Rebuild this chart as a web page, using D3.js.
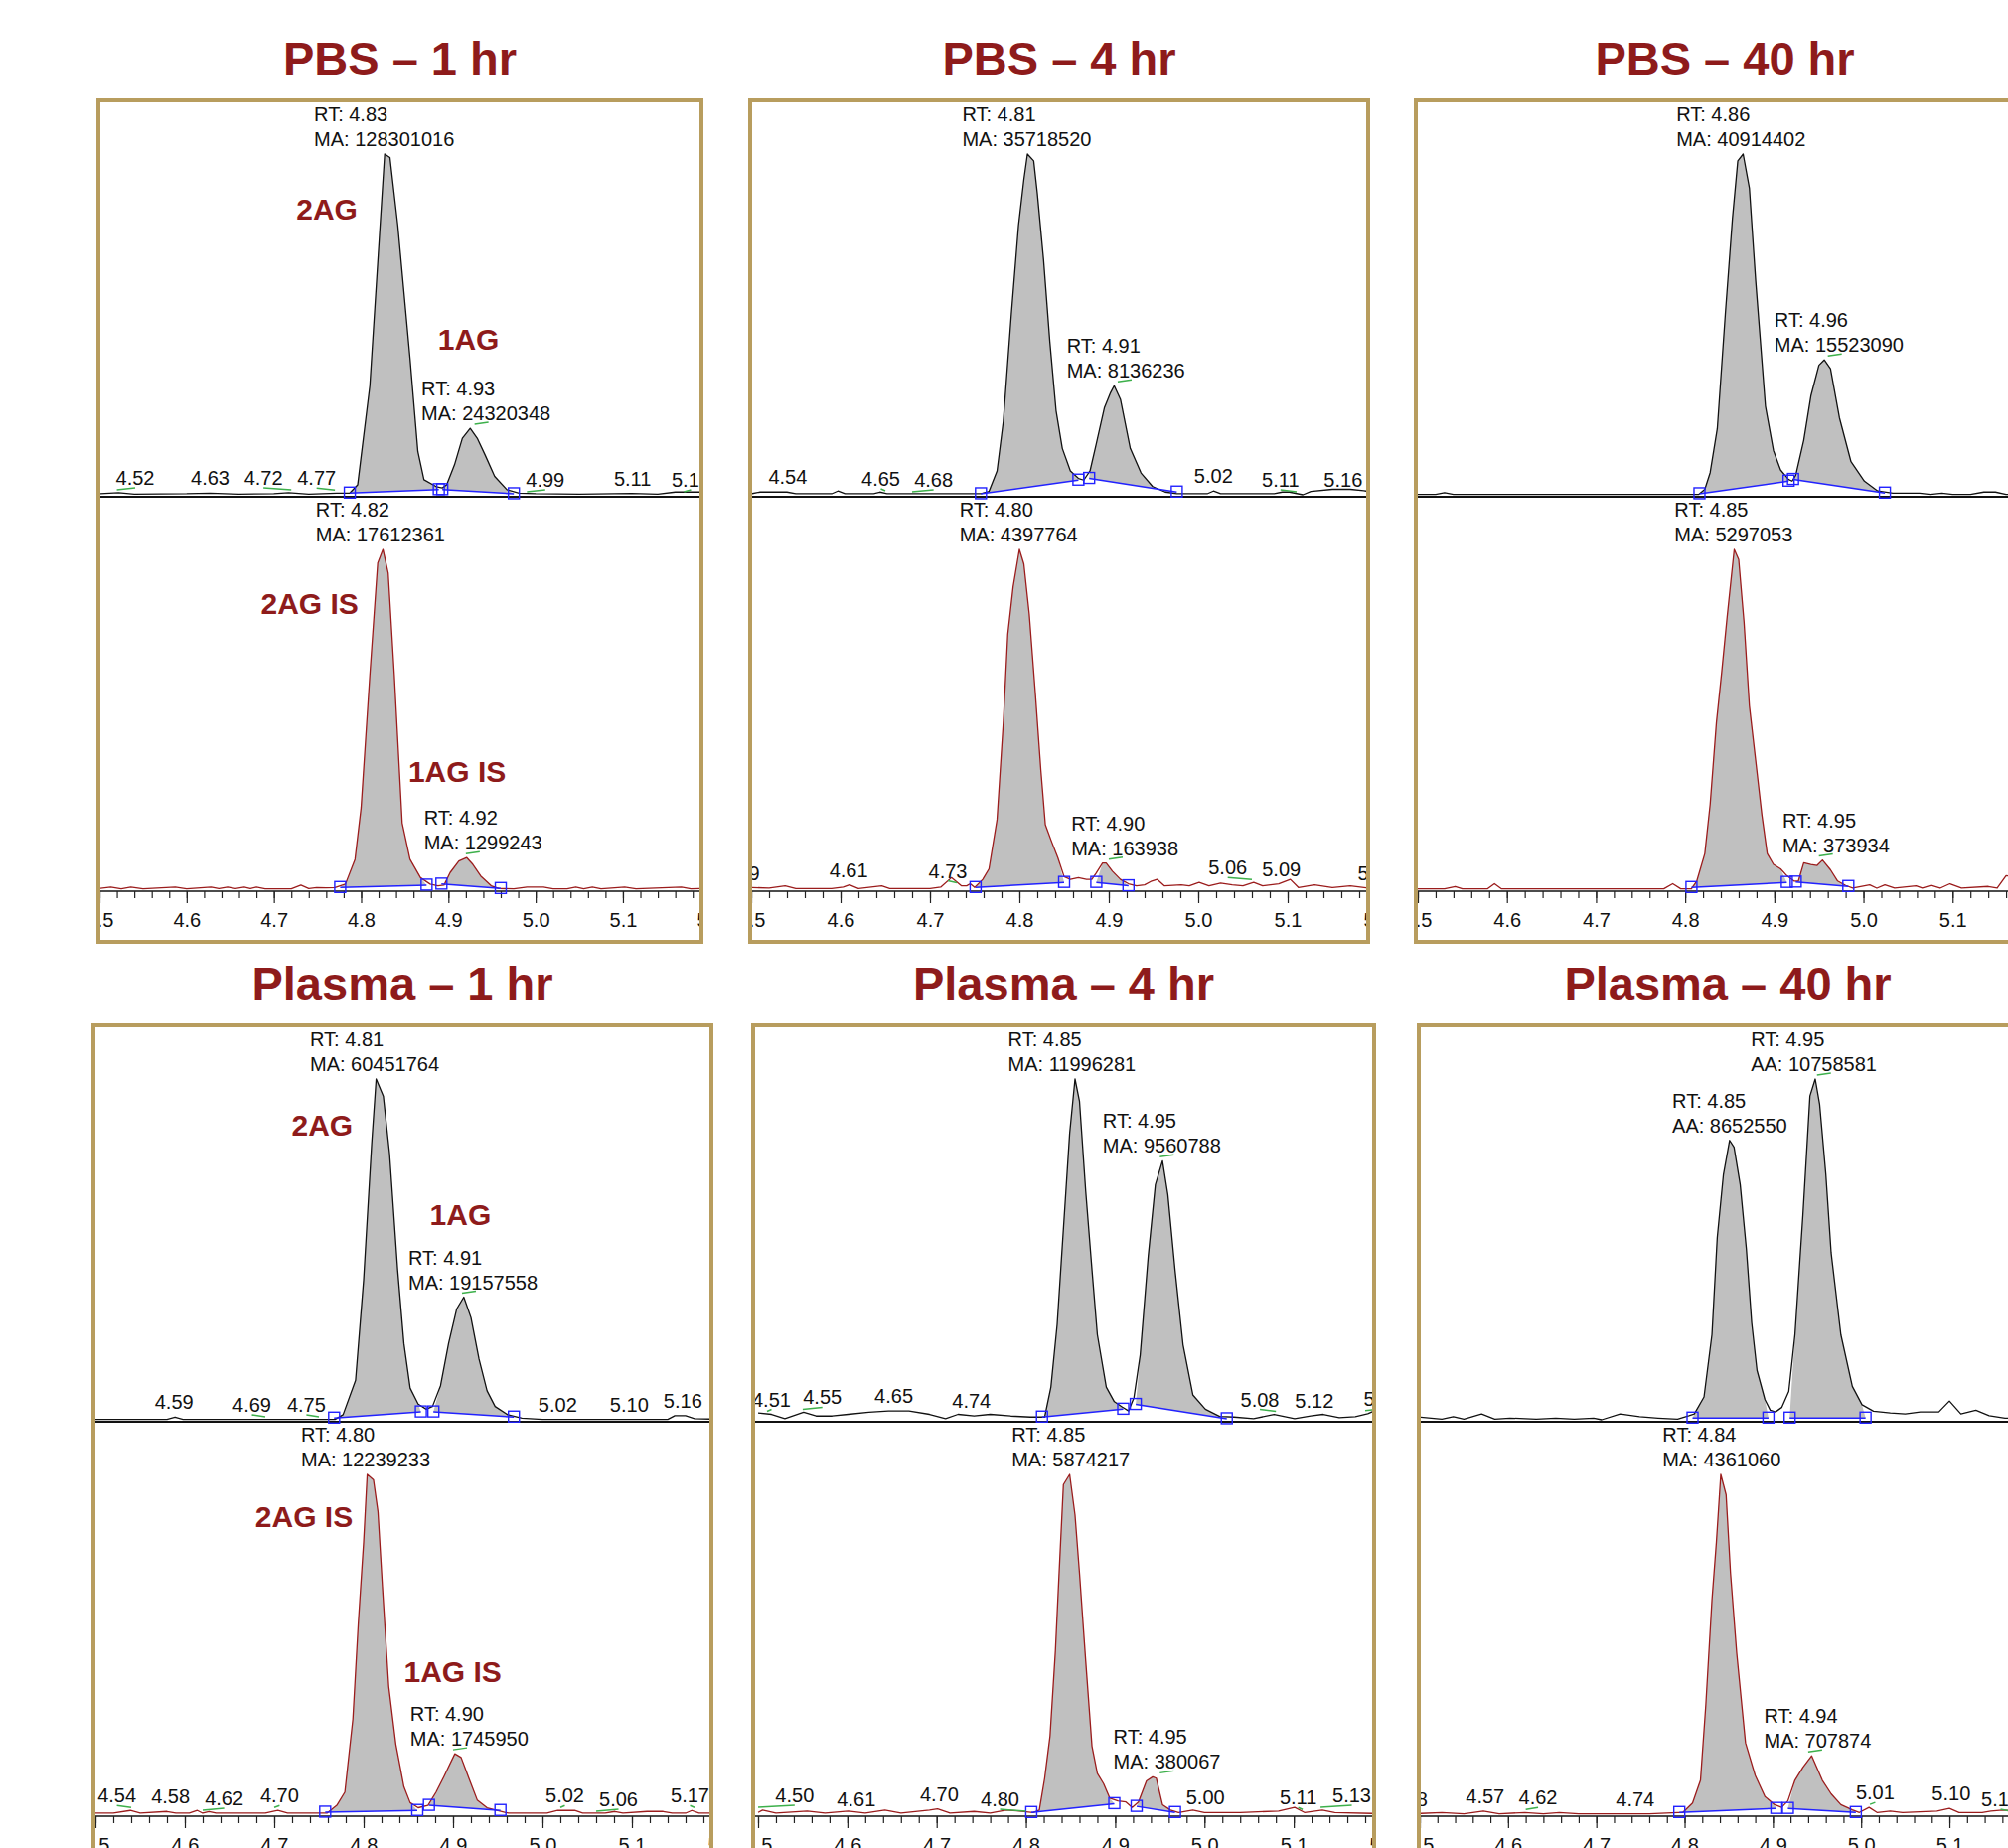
<!DOCTYPE html>
<html>
<head>
<meta charset="utf-8">
<title>2AG / 1AG chromatograms</title>
<style>
  body { margin: 0; background: #fff; }
  svg text { font-family: "Liberation Sans", Arial, sans-serif; }
</style>
</head>
<body>
<svg id="chart"></svg>
<script src="https://cdn.jsdelivr.net/npm/d3@7/dist/d3.min.js"></script>
<script>
// ---- data: [retention time (min), relative intensity (%)] ----
const titles = ["PBS – 1 hr", "PBS – 4 hr", "PBS – 40 hr", "Plasma – 1 hr", "Plasma – 4 hr", "Plasma – 40 hr"]

const pbs1Upper = [[4.50,0.3],[4.522,0.6],[4.54,0.2],[4.60,0.3],[4.627,0.5],[4.66,0.2],[4.70,0.3],[4.717,0.6],[4.74,0.2],[4.772,0.5],[4.787,0.5],[4.796,2.9],[4.810,32],[4.821,76],[4.827,100],[4.833,99],[4.842,79],[4.856,40],[4.865,12.7],[4.872,4.4],[4.886,2.4],[4.893,2.0],[4.898,2.9],[4.907,8.8],[4.916,16.6],[4.925,19.5],[4.933,16.6],[4.942,11.7],[4.953,5.4],[4.967,1.5],[4.981,0.5],[5.00,0.3],[5.05,0.2],[5.11,0.4],[5.14,0.2],[5.16,0.8],[5.19,0.8]]
const pbs1Lower = [[4.50,0.2],[4.513,0.6],[4.525,0.1],[4.536,0.6],[4.55,0.1],[4.587,0.6],[4.60,0.1],[4.628,0.6],[4.637,0.2],[4.647,0.6],[4.656,0.2],[4.666,0.6],[4.673,0.2],[4.680,0.6],[4.69,0.1],[4.72,0.1],[4.731,1.2],[4.740,0.2],[4.749,0.5],[4.760,0.4],[4.770,0.5],[4.782,1.5],[4.793,8.8],[4.800,24],[4.810,63],[4.819,96],[4.825,100],[4.831,93],[4.838,63],[4.847,19.5],[4.856,8.8],[4.868,3.4],[4.879,1.5],[4.888,1.0],[4.895,1.2],[4.902,4.9],[4.912,8.3],[4.921,9.3],[4.928,7.3],[4.937,3.9],[4.949,1.0],[4.958,0.2],[4.975,0.1],[4.990,0.6],[5.009,0.6],[5.02,0.1],[5.036,0.1],[5.046,0.6],[5.055,0.1],[5.065,0.6],[5.075,0.1],[5.102,0.6],[5.115,0.1],[5.167,0.6],[5.178,0.1],[5.19,0.2]]
const pbs4Upper = [[4.50,0.3],[4.51,0.8],[4.54,0.8],[4.55,0.3],[4.59,0.3],[4.597,1.1],[4.605,0.3],[4.637,0.3],[4.644,0.8],[4.652,0.3],[4.70,0.3],[4.740,0.3],[4.757,0.3],[4.766,1.0],[4.775,7],[4.782,21.5],[4.791,53],[4.799,79],[4.805,92.5],[4.809,100],[4.816,98],[4.820,88.5],[4.827,69],[4.834,45],[4.841,24.7],[4.848,13.6],[4.857,7],[4.866,4.8],[4.872,4.3],[4.879,7],[4.886,15],[4.895,25.5],[4.902,30],[4.906,32],[4.913,28],[4.924,13.6],[4.936,6.4],[4.949,2.4],[4.963,0.8],[4.976,0.3],[5.010,0.3],[5.017,1.1],[5.025,0.3],[5.085,0.3],[5.094,0.8],[5.102,0.8],[5.117,0.0],[5.126,1.0],[5.15,1.6],[5.17,1.6],[5.185,1.2],[5.19,1.0]]
const pbs4Lower = [[4.49,0.3],[4.50,0.5],[4.52,0.3],[4.538,1.0],[4.55,0.2],[4.59,0.2],[4.603,0.6],[4.610,1.3],[4.620,0.2],[4.646,1.0],[4.655,0.2],[4.70,0.2],[4.712,0.6],[4.724,3.4],[4.735,1.0],[4.741,1.0],[4.745,1.6],[4.750,0.5],[4.759,2.9],[4.766,6],[4.775,20.5],[4.782,49],[4.787,75],[4.793,89],[4.800,100],[4.805,95.7],[4.811,81],[4.818,57],[4.824,35],[4.829,19],[4.836,14],[4.843,9.3],[4.850,3.7],[4.857,2.9],[4.866,3.4],[4.875,2.9],[4.881,2.9],[4.886,4.8],[4.893,7.7],[4.897,7.7],[4.904,5.3],[4.913,2.9],[4.922,1.6],[4.931,1.0],[4.940,1.3],[4.948,2.4],[4.954,2.9],[4.962,1.0],[4.981,1.3],[4.990,1.0],[5.001,2.0],[5.012,1.0],[5.025,1.8],[5.038,1.3],[5.050,1.0],[5.062,2.0],[5.072,1.0],[5.081,1.3],[5.090,1.6],[5.103,2.9],[5.112,0.5],[5.130,1.3],[5.150,0.5],[5.170,1.0],[5.19,0.3]]
const pbs40Upper = [[4.50,0.1],[4.52,0.1],[4.530,0.6],[4.54,0.1],[4.70,0.1],[4.80,0.1],[4.815,0.1],[4.822,1.6],[4.828,6.5],[4.836,19.4],[4.845,53],[4.853,81],[4.859,98],[4.865,100],[4.872,90],[4.879,63],[4.890,26],[4.899,13],[4.907,7.3],[4.916,4.5],[4.920,4.0],[4.924,5.7],[4.933,16],[4.941,29],[4.950,38],[4.956,39.6],[4.963,37],[4.973,22.6],[4.986,9.7],[5.001,4.0],[5.016,1.1],[5.033,0.5],[5.050,0.5],[5.063,0.5],[5.075,0.1],[5.088,0.5],[5.100,0.1],[5.120,0.1],[5.135,0.8],[5.148,0.8],[5.160,0.1],[5.19,0.1]]
const pbs40Lower = [[4.50,0.1],[4.53,0.1],[4.542,0.8],[4.55,0.1],[4.578,0.1],[4.586,1.6],[4.594,0.1],[4.70,0.1],[4.776,0.1],[4.786,1.6],[4.795,0.1],[4.807,0.1],[4.813,2.4],[4.822,10.5],[4.828,25],[4.835,49],[4.841,64],[4.847,80],[4.855,100],[4.860,97],[4.866,78.6],[4.872,54],[4.879,38],[4.886,21.9],[4.892,10.5],[4.899,7.3],[4.907,6],[4.914,4],[4.922,2.4],[4.927,2.4],[4.933,7.8],[4.941,7.3],[4.948,7.0],[4.954,8.6],[4.963,5.7],[4.971,2.4],[4.980,1.1],[4.988,0.3],[5.007,1.3],[5.015,0.3],[5.024,1.3],[5.035,0.3],[5.059,1.0],[5.066,0.3],[5.076,1.1],[5.086,0.3],[5.097,1.6],[5.110,0.3],[5.140,0.8],[5.150,0.3],[5.160,4.0],[5.19,3.0]]
const plasma1Upper = [[4.50,0.1],[4.58,0.1],[4.589,0.8],[4.598,0.1],[4.70,0.1],[4.768,0.1],[4.777,1.5],[4.791,11.6],[4.800,41],[4.809,81],[4.814,100],[4.822,95],[4.829,78],[4.838,44],[4.845,22.4],[4.852,9.3],[4.861,4.6],[4.870,3.1],[4.877,3.9],[4.886,10],[4.895,22.4],[4.904,32.5],[4.912,36],[4.920,30],[4.929,17.8],[4.938,8.5],[4.947,3.9],[4.961,1.5],[4.977,0.5],[5.00,0.1],[5.140,0.1],[5.148,1.2],[5.160,1.2],[5.170,0.3],[5.19,0.2]]
const plasma1Lower = [[4.50,0.3],[4.52,0.3],[4.539,1.1],[4.55,0.3],[4.58,0.8],[4.59,0.3],[4.605,0.3],[4.614,1.1],[4.620,0.3],[4.627,0.8],[4.635,0.3],[4.69,0.3],[4.704,1.1],[4.715,0.3],[4.759,0.3],[4.770,2.6],[4.779,6.5],[4.788,28],[4.794,56],[4.800,80],[4.804,100],[4.811,98.4],[4.816,89],[4.821,67],[4.828,37.7],[4.836,20.6],[4.845,8.1],[4.852,3.4],[4.861,1.9],[4.872,2.6],[4.881,6.5],[4.890,11.2],[4.902,17.8],[4.909,16.7],[4.918,10.4],[4.927,4.2],[4.938,1.9],[4.949,1.1],[4.962,0.3],[5.005,0.3],[5.017,1.1],[5.036,1.1],[5.045,0.3],[5.070,0.3],[5.081,0.8],[5.090,0.3],[5.117,0.8],[5.135,0.8],[5.145,0.3],[5.160,0.3],[5.167,1.1],[5.175,0.3],[5.19,0.3]]
const plasma4Upper = [[4.50,2.0],[4.515,1.6],[4.530,0.3],[4.551,2.2],[4.565,1.1],[4.583,1.1],[4.601,1.6],[4.624,2.2],[4.646,2.6],[4.669,2.6],[4.692,1.6],[4.710,0.3],[4.724,1.6],[4.742,1.1],[4.760,1.6],[4.783,1.1],[4.805,0.8],[4.821,0.8],[4.828,9.6],[4.835,28],[4.842,56],[4.849,84],[4.855,100],[4.860,93.5],[4.867,67],[4.874,44],[4.880,25],[4.890,9.6],[4.899,5.3],[4.908,3.7],[4.915,2.6],[4.921,6.5],[4.928,19],[4.937,48],[4.945,69],[4.953,76],[4.959,66],[4.967,44],[4.976,22],[4.987,7.3],[5.001,3.1],[5.017,1.0],[5.033,0.8],[5.055,0.3],[5.078,1.6],[5.101,0.3],[5.119,1.1],[5.133,1.6],[5.151,0.6],[5.169,0.9],[5.183,1.8],[5.19,2.6]]
const plasma4Lower = [[4.50,0.5],[4.505,1.2],[4.52,0.3],[4.555,0.9],[4.575,0.3],[4.601,0.9],[4.620,0.3],[4.642,1.2],[4.660,0.3],[4.692,1.2],[4.701,1.6],[4.715,0.3],[4.742,0.8],[4.760,0.3],[4.778,1.2],[4.790,1.0],[4.808,0.5],[4.815,1.2],[4.821,10.6],[4.827,23],[4.833,48],[4.837,70],[4.842,97],[4.849,100],[4.855,88],[4.860,71],[4.867,45],[4.874,20],[4.880,12],[4.887,9],[4.894,4.7],[4.903,3.9],[4.912,3.6],[4.919,2.0],[4.926,3.6],[4.935,9.8],[4.942,11],[4.946,10.6],[4.953,2.8],[4.962,1.2],[4.971,0.5],[4.987,1.2],[5.000,0.5],[5.040,0.5],[5.083,0.9],[5.101,2.0],[5.112,0.5],[5.132,1.2],[5.146,0.5],[5.19,0.2]]
const plasma40Upper = [[4.50,0.8],[4.525,0.2],[4.538,0.9],[4.550,0.2],[4.570,1.7],[4.585,0.2],[4.602,0.5],[4.632,0.2],[4.654,0.5],[4.675,0.2],[4.697,0.5],[4.706,0.0],[4.727,1.7],[4.749,0.9],[4.770,0.5],[4.792,0.2],[4.805,1.2],[4.811,1.7],[4.822,6.7],[4.831,25],[4.837,53.5],[4.844,72],[4.851,82],[4.856,80],[4.863,69],[4.870,50],[4.876,28.5],[4.882,14.5],[4.891,5.9],[4.897,2.8],[4.903,2.3],[4.910,3.6],[4.918,8.3],[4.925,25],[4.934,60],[4.942,95],[4.948,100],[4.953,92.5],[4.960,72],[4.966,49],[4.977,25],[4.990,9.8],[5.001,4.4],[5.014,2.5],[5.033,2.0],[5.050,1.7],[5.067,2.3],[5.088,2.3],[5.100,5.5],[5.113,1.7],[5.130,2.8],[5.145,1.2],[5.163,0.5],[5.19,0.5]]
const plasma40Lower = [[4.50,0.2],[4.525,0.5],[4.550,0.1],[4.572,0.9],[4.590,0.1],[4.619,0.5],[4.640,0.1],[4.658,0.5],[4.680,0.1],[4.760,0.1],[4.792,0.5],[4.798,0.5],[4.809,3.3],[4.818,10],[4.824,32],[4.831,63],[4.836,80],[4.841,100],[4.847,94],[4.852,71],[4.859,47.5],[4.869,21],[4.880,11.4],[4.891,5.2],[4.902,2.8],[4.910,2.0],[4.917,3.9],[4.925,10],[4.934,13.8],[4.944,17.2],[4.956,10],[4.966,6.0],[4.977,2.8],[4.990,1.3],[4.998,0.5],[5.009,2.0],[5.018,0.5],[5.033,0.9],[5.047,0.5],[5.086,0.9],[5.100,1.7],[5.111,0.5],[5.137,0.5],[5.147,0.9],[5.160,1.2],[5.19,1.0]]

const traces = [
    [pbs1Upper, pbs1Lower], [pbs4Upper, pbs4Lower], [pbs40Upper, pbs40Lower],
    [plasma1Upper, plasma1Lower], [plasma4Upper, plasma4Lower], [plasma40Upper, plasma40Lower]
]

// integration baselines: panel, trace, start rt, start %, end rt, end %
const integrations = [
    [0,0,4.787,0.5,4.889,1.5],[0,0,4.893,1.5,4.975,0.3],
    [0,1,4.776,0.5,4.875,1.2],[0,1,4.892,1.5,4.960,0.2],
    [1,0,4.757,0.3,4.866,4.3],[1,0,4.878,4.8,4.976,0.8],
    [1,1,4.751,0.5,4.850,2.0],[1,1,4.886,2.0,4.922,1.0],
    [2,0,4.816,0.3,4.916,4.0],[2,0,4.921,4.5,5.024,0.5],
    [2,1,4.807,0.5,4.914,2.0],[2,1,4.924,2.1,4.983,0.8],
    [3,0,4.767,0.5,4.864,2.3],[3,0,4.878,2.3,4.968,0.8],
    [3,1,4.757,0.6,4.860,1.1],[3,1,4.873,2.6,4.953,1.1],
    [4,0,4.818,0.8,4.909,3.1],[4,0,4.923,4.5,5.025,0.3],
    [4,1,4.806,0.5,4.899,3.1],[4,1,4.924,2.3,4.967,0.5],
    [5,0,4.809,0.5,4.895,0.5],[5,0,4.919,0.5,5.005,0.5],
    [5,1,4.794,0.5,4.904,1.7],[5,1,4.917,1.7,4.994,0.5]
]

// peak annotations: panel, trace, RT, area, label left edge (min)
const peakLabels = [
    [0,0,"4.83","MA: 128301016",4.746],[0,0,"4.93","MA: 24320348",4.869],
    [0,1,"4.82","MA: 17612361",4.748],[0,1,"4.92","MA: 1299243",4.872],
    [1,0,"4.81","MA: 35718520",4.736],[1,0,"4.91","MA: 8136236",4.853],
    [1,1,"4.80","MA: 4397764",4.733],[1,1,"4.90","MA: 163938",4.858],
    [2,0,"4.86","MA: 40914402",4.790],[2,0,"4.96","MA: 15523090",4.900],
    [2,1,"4.85","MA: 5297053",4.788],[2,1,"4.95","MA: 373934",4.909],
    [3,0,"4.81","MA: 60451764",4.740],[3,0,"4.91","MA: 19157558",4.850],
    [3,1,"4.80","MA: 12239233",4.730],[3,1,"4.90","MA: 1745950",4.852],
    [4,0,"4.85","MA: 11996281",4.780],[4,0,"4.95","MA: 9560788",4.886],
    [4,1,"4.85","MA: 5874217",4.784],[4,1,"4.95","MA: 380067",4.898],
    [5,0,"4.85","AA: 8652550",4.786],[5,0,"4.95","AA: 10758581",4.875],
    [5,1,"4.84","MA: 4361060",4.775],[5,1,"4.94","MA: 707874",4.890]
]

// small baseline peak labels: panel, trace, value, label centre (min)
const noiseLabels = [
    [0,0,"4.52",4.541],[0,0,"4.63",4.627],[0,0,"4.72",4.688],[0,0,"4.77",4.749],[0,0,"4.99",5.011],[0,0,"5.11",5.111],[0,0,"5.17",5.178],
    [1,0,"4.54",4.541],[1,0,"4.65",4.645],[1,0,"4.68",4.704],[1,0,"5.02",5.017],[1,0,"5.11",5.092],[1,0,"5.16",5.162],
    [1,1,"4.49",4.488],[1,1,"4.61",4.609],[1,1,"4.73",4.720],[1,1,"5.06",5.033],[1,1,"5.09",5.093],[1,1,"5.19",5.200],
    [3,0,"4.59",4.588],[3,0,"4.69",4.675],[3,0,"4.75",4.736],[3,0,"5.02",5.017],[3,0,"5.10",5.097],[3,0,"5.16",5.157],
    [3,1,"4.54",4.524],[3,1,"4.58",4.584],[3,1,"4.62",4.644],[3,1,"4.70",4.706],[3,1,"5.02",5.025],[3,1,"5.06",5.085],[3,1,"5.17",5.165],
    [4,0,"4.51",4.515],[4,0,"4.55",4.572],[4,0,"4.65",4.652],[4,0,"4.74",4.739],[4,0,"5.08",5.062],[4,0,"5.12",5.123],[4,0,"5.18",5.200],
    [4,1,"4.50",4.541],[4,1,"4.61",4.610],[4,1,"4.70",4.703],[4,1,"4.80",4.771],[4,1,"5.00",5.001],[4,1,"5.11",5.105],[4,1,"5.13",5.165],
    [5,1,"4.48",4.487],[5,1,"4.57",4.574],[5,1,"4.62",4.634],[5,1,"4.74",4.744],[5,1,"5.01",5.016],[5,1,"5.10",5.102],[5,1,"5.17",5.158]
]

// compound names: panel, trace, text, rt, % height, anchor
const compoundLabels = [
    [0,0,"2AG",4.796,80.7,"end"],[0,0,"1AG",4.888,42.5,"start"],
    [0,1,"2AG IS",4.797,81.1,"end"],[0,1,"1AG IS",4.854,31.7,"start"],
    [3,0,"2AG",4.788,83.4,"end"],[3,0,"1AG",4.874,57.1,"start"],
    [3,1,"2AG IS",4.788,84.6,"end"],[3,1,"1AG IS",4.845,39.0,"start"]
]

const majorTicks = [4.5, 4.6, 4.7, 4.8, 4.9, 5.0, 5.1, 5.2]
const minorTicks = d3.range(4.5, 5.2, 0.02)

// ---- layout ----
const width = 2021, height = 1860
const panels = [
    { x0: 99, x1: 706, a0: 100, a1: 706, top: 101 },
    { x0: 755, x1: 1377, a0: 756, a1: 1377, top: 101 },
    { x0: 1425, x1: 2047, a0: 1427, a1: 2046, top: 101 },
    { x0: 94, x1: 716, a0: 96, a1: 717, top: 1032 },
    { x0: 758, x1: 1383, a0: 763, a1: 1383, top: 1032 },
    { x0: 1428, x1: 2050, a0: 1429, a1: 2042, top: 1032 }
]
const V = { uZero: 397, uFull: 54, lZero: 794, lFull: 452, uAxis: 399, lAxis: 796, h: 847 }
const darkRed = "#8e1b1b", gold = "#b89d5e", blue = "#2222ff", green = "#3db04b"

const svg = d3.select("#chart").attr("width", width).attr("height", height)
svg.append("rect").attr("width", width).attr("height", height).attr("fill", "#fff")

panels.forEach((P, i) => {
    const x = d3.scaleLinear().domain([4.5, 5.19]).range([P.a0, P.a1])
    const ys = [
        d3.scaleLinear().domain([0, 100]).range([P.top + V.uZero, P.top + V.uFull]),
        d3.scaleLinear().domain([0, 100]).range([P.top + V.lZero, P.top + V.lFull])
    ]

    svg.append("clipPath").attr("id", "clip" + i)
        .append("rect")
        .attr("x", P.x0 + 2).attr("y", P.top + 2)
        .attr("width", P.x1 - P.x0 - 4).attr("height", V.h - 4)

    // title
    svg.append("text")
        .attr("x", (P.x0 + P.x1) / 2).attr("y", P.top - 26)
        .attr("text-anchor", "middle")
        .style("font-size", "47px").style("font-weight", "bold")
        .attr("fill", darkRed)
        .text(titles[i])

    const g = svg.append("g").attr("clip-path", `url(#clip${i})`)

    // axis lines
    g.append("line")
        .attr("x1", P.x0).attr("x2", P.x1)
        .attr("y1", P.top + V.uAxis).attr("y2", P.top + V.uAxis)
        .attr("stroke", "#111").attr("stroke-width", 2)
    g.append("line")
        .attr("x1", P.x0).attr("x2", P.x1)
        .attr("y1", P.top + V.lAxis).attr("y2", P.top + V.lAxis)
        .attr("stroke", "#111").attr("stroke-width", 1.5)

    const minorAxis = g.append("g")
        .attr("transform", `translate(0,${P.top + V.lAxis})`)
        .call(d3.axisBottom(x).tickValues(minorTicks).tickSize(7).tickSizeOuter(0).tickFormat(""))
    const majorAxis = g.append("g")
        .attr("transform", `translate(0,${P.top + V.lAxis})`)
        .call(d3.axisBottom(x).tickValues(majorTicks).tickSize(12).tickSizeOuter(0).tickPadding(10).tickFormat(d3.format(".1f")))
    ;[minorAxis, majorAxis].forEach(a => {
        a.select(".domain").remove()
        a.selectAll("line").attr("stroke", "#222").attr("stroke-width", 1.2)
        a.selectAll("text").style("font-size", "20px").attr("fill", "#111")
            .style("font-family", '"Liberation Sans", Arial, sans-serif')
    })

    ys.forEach((y, j) => {
        const trace = traces[i][j]
        const line = d3.line().x(d => x(d[0])).y(d => y(d[1]))

        const ints = integrations.filter(d => d[0] === i && d[1] === j)
        // shaded peak areas, closed along the integration baseline
        ints.forEach(d => {
            const pts = [[d[2], d[3]], ...trace.filter(p => p[0] > d[2] && p[0] < d[4]), [d[4], d[5]]]
            g.append("path").attr("d", line(pts) + "Z").attr("fill", "#c0c0c0")
        })

        g.append("path").datum(trace)
            .attr("d", line)
            .attr("fill", "none")
            .attr("stroke", j ? "#9b1c1c" : "#111")
            .attr("stroke-width", 1.3)
            .attr("stroke-linejoin", "round")

        ints.forEach(d => {
            g.append("line")
                .attr("x1", x(d[2])).attr("y1", y(d[3]))
                .attr("x2", x(d[4])).attr("y2", y(d[5]))
                .attr("stroke", blue).attr("stroke-width", 1.5)
            ;[[d[2], d[3]], [d[4], d[5]]].forEach(p => {
                g.append("rect")
                    .attr("x", x(p[0]) - 5.5).attr("y", y(p[1]) - 6)
                    .attr("width", 11).attr("height", 11)
                    .attr("fill", "none").attr("stroke", blue).attr("stroke-width", 1.4)
            })
        })

        const localMax = (t, w) => {
            const near = trace.filter(p => Math.abs(p[0] - t) <= w)
            return near.length ? d3.max(near, p => p[1]) : 0
        }

        // baseline peak labels
        noiseLabels.filter(d => d[0] === i && d[1] === j).forEach(d => {
            const v = +d[2]
            const yb = y(localMax(v, 0.006)) - 8
            if (Math.abs(x(v) - x(d[3])) > 4) {
                g.append("line")
                    .attr("x1", x(d[3])).attr("y1", yb + 3)
                    .attr("x2", x(v)).attr("y2", yb + 5)
                    .attr("stroke", green).attr("stroke-width", 1.5)
            }
            g.append("text")
                .attr("x", x(d[3])).attr("y", yb)
                .attr("text-anchor", "middle")
                .style("font-size", "20px").attr("fill", "#111")
                .text(d[2])
        })

        // RT / area labels
        peakLabels.filter(d => d[0] === i && d[1] === j).forEach((d, k) => {
            const rt = +d[2]
            const apex = localMax(rt, 0.015)
            const yb = y(apex) - 8
            if (k === 1) {
                g.append("line")
                    .attr("x1", x(rt)).attr("y1", yb + 4)
                    .attr("x2", x(rt) + 14).attr("y2", yb + 2)
                    .attr("stroke", green).attr("stroke-width", 1.5)
            }
            const t = g.append("text")
                .attr("x", x(d[4])).attr("y", yb - 25)
                .style("font-size", "20px").attr("fill", "#111")
            t.append("tspan").text("RT: " + d[2])
            t.append("tspan").attr("x", x(d[4])).attr("dy", 25).text(d[3])
        })

        compoundLabels.filter(d => d[0] === i && d[1] === j).forEach(d => {
            g.append("text")
                .attr("x", x(d[3])).attr("y", y(d[4]))
                .attr("text-anchor", d[5])
                .style("font-size", "30px").style("font-weight", "bold")
                .attr("fill", darkRed)
                .text(d[2])
        })
    })

    svg.append("rect")
        .attr("x", P.x0).attr("y", P.top)
        .attr("width", P.x1 - P.x0).attr("height", V.h)
        .attr("fill", "none").attr("stroke", gold).attr("stroke-width", 4)
})
</script>
</body>
</html>
